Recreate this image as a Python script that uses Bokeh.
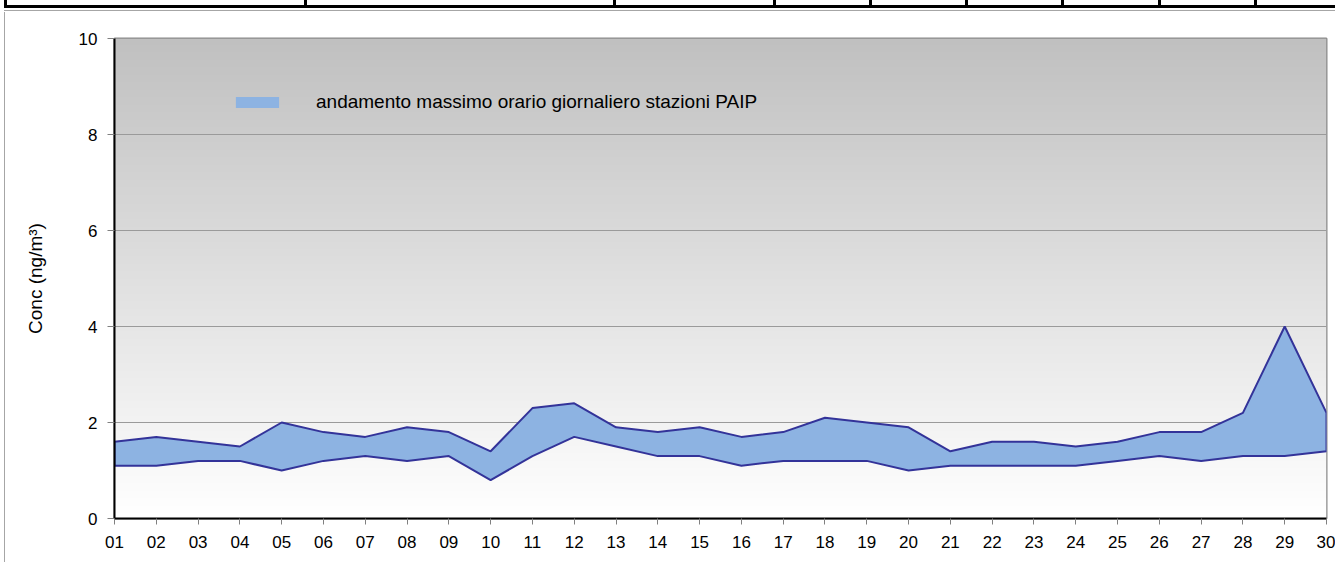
import numpy as np
from bokeh.plotting import figure
from bokeh.layouts import column
from bokeh.models import FixedTicker, Legend, LegendItem, Div
from bokeh.embed import file_html
from bokeh.resources import INLINE

day_labels = ["01", "02", "03", "04", "05", "06", "07", "08", "09", "10",
              "11", "12", "13", "14", "15", "16", "17", "18", "19", "20",
              "21", "22", "23", "24", "25", "26", "27", "28", "29", "30"]
max_values = [1.6, 1.7, 1.6, 1.5, 2.0, 1.8, 1.7, 1.9, 1.8, 1.4,
              2.3, 2.4, 1.9, 1.8, 1.9, 1.7, 1.8, 2.1, 2.0, 1.9,
              1.4, 1.6, 1.6, 1.5, 1.6, 1.8, 1.8, 2.2, 4.0, 2.2]
min_values = [1.1, 1.1, 1.2, 1.2, 1.0, 1.2, 1.3, 1.2, 1.3, 0.8,
              1.3, 1.7, 1.5, 1.3, 1.3, 1.1, 1.2, 1.2, 1.2, 1.0,
              1.1, 1.1, 1.1, 1.1, 1.2, 1.3, 1.2, 1.3, 1.3, 1.4]
y_ticks = [0, 2, 4, 6, 8, 10]
legend_text = "andamento massimo orario giornaliero stazioni PAIP"
y_label = "Conc (ng/m\u00b3)"

FONT = "Liberation Sans"
W, H = 1335, 562
STRIP_H = 12
LEFT_W = 6

# ---- decorative strip: bottom edge of the table above + outer border of the chart ----
table_cols = [4, 304, 613, 773, 869, 965, 1061, 1158, 1254]
bars = ['<div style="position:absolute;left:4px;width:%dpx;top:5px;height:2.5px;background:#000"></div>' % (W - 4),
        '<div style="position:absolute;left:4px;width:%dpx;top:10px;height:1px;background:#a6a6a6"></div>' % (W - 4)]
for c in table_cols:
    bars.append('<div style="position:absolute;left:%dpx;width:3px;top:0px;height:6px;background:#000"></div>' % c)
strip = Div(text='<div style="position:relative;width:%dpx;height:%dpx">%s</div>' % (W, STRIP_H, "".join(bars)),
            width=W, height=STRIP_H, margin=(0, 0, 0, 0))

# ---- main chart ----
xs = [i + 1 for i, _ in enumerate(day_labels)]
PW = W - LEFT_W
PH = H - STRIP_H
p = figure(width=PW, height=PH, output_backend="svg", toolbar_location=None,
           x_range=(xs[0], xs[-1]), y_range=(0, 10),
           min_border_left=114 - LEFT_W, min_border_right=PW - (1326 - LEFT_W),
           min_border_top=38 - STRIP_H, min_border_bottom=PH - (518 - STRIP_H))
p.margin = (0, 0, 0, LEFT_W)
p.styles = {"box-shadow": "-1px 0 0 0 white, -2px 0 0 0 #a6a6a6"}

N = 256
img = np.zeros((N, 1), dtype=np.uint32)
view = img.view(dtype=np.uint8).reshape((N, 1, 4))
for i in range(N):
    g = int(round(255 - (255 - 192) * i / (N - 1)))
    view[i, 0, :] = [g, g, g, 255]
p.image_rgba(image=[img], x=xs[0], y=0, dw=xs[-1] - xs[0], dh=10, level="image")

area = p.varea(x=xs, y1=min_values, y2=max_values, fill_color="#8db3e2")
poly_x = xs + xs[::-1]
poly_y = max_values + min_values[::-1]
p.patch(poly_x, poly_y, fill_alpha=0, line_color="#333399", line_width=2)

p.background_fill_color = "white"
p.border_fill_color = "white"
p.outline_line_color = "#8a8a8a"
p.outline_line_width = 2

p.xgrid.visible = False
p.ygrid.ticker = FixedTicker(ticks=[2, 4, 6, 8])
p.ygrid.grid_line_color = "#9a9a9a"
p.ygrid.grid_line_width = 1

p.xaxis.ticker = FixedTicker(ticks=xs)
p.xaxis.major_label_overrides = {x: lab for x, lab in zip(xs, day_labels)}
p.yaxis.ticker = FixedTicker(ticks=y_ticks)

for ax in (p.xaxis[0], p.yaxis[0]):
    ax.axis_line_color = "black"
    ax.axis_line_width = 2
    ax.major_tick_line_color = "#808080"
    ax.major_tick_in = 0
    ax.minor_tick_line_color = None
    ax.major_label_text_font = FONT
    ax.major_label_text_font_size = "17px"
    ax.major_label_text_color = "black"

p.xaxis.major_tick_out = 6
p.xaxis.major_label_standoff = 11
p.yaxis.major_tick_out = 7
p.yaxis.major_label_standoff = 10

p.yaxis.axis_label = y_label
p.yaxis.axis_label_text_font = FONT
p.yaxis.axis_label_text_font_size = "19px"
p.yaxis.axis_label_text_font_style = "normal"
p.yaxis.axis_label_text_color = "black"
p.yaxis.axis_label_standoff = 30

legend = Legend(items=[LegendItem(label=legend_text, renderers=[area])],
                location=(116, 405), padding=0, margin=0, spacing=0,
                glyph_width=54, glyph_height=14, label_height=14,
                label_standoff=32, background_fill_alpha=0, border_line_alpha=0,
                label_text_font=FONT, label_text_font_size="19px",
                label_text_color="black")
p.add_layout(legend, "center")

layout = column(strip, p, spacing=0)
open("out.html", "w").write(file_html(layout, INLINE))
